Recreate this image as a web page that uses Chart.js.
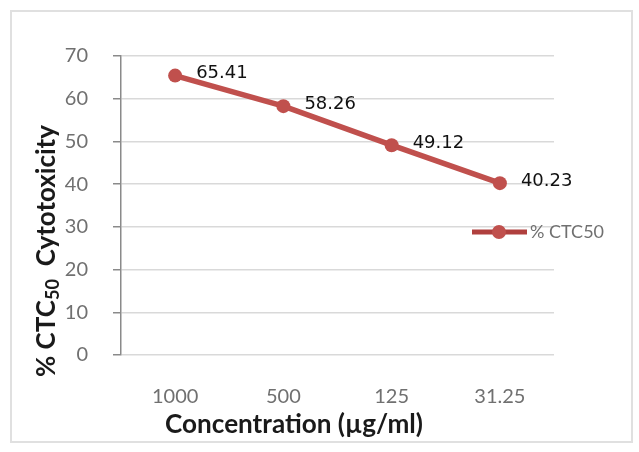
<!DOCTYPE html>
<html>
<head>
<meta charset="utf-8">
<script src="https://cdn.jsdelivr.net/npm/chart.js@4.4.1/dist/chart.umd.min.js"></script>
<style>
  html, body { margin: 0; padding: 0; background: #ffffff; }
  #wrap { position: relative; width: 639px; height: 452px; }
</style>
</head>
<body>
<div id="wrap"><canvas id="c" width="639" height="452"></canvas></div>
<script>
// ---- data ----
const categories = ["1000", "500", "125", "31.25"];
const seriesName = "% CTC50";
const ctcValues = [65.41, 58.26, 49.12, 40.23];
const yTicks = [0, 10, 20, 30, 40, 50, 60, 70];
const xTitle = "Concentration (\u00B5g/ml)";
const yTitleParts = ["% CTC", "50", "  Cytotoxicity"];

const lineColor = "#C0504D";

function fitFont(ctx, weight, family, text, targetWidth, startSize) {
  ctx.font = weight + " " + startSize + "px " + family;
  const w = ctx.measureText(text).width;
  return startSize * targetWidth / w;
}

const decorPlugin = {
  id: "decor",
  beforeDraw(chart) {
    const ctx = chart.ctx;
    ctx.save();
    ctx.fillStyle = "#ffffff";
    ctx.fillRect(0, 0, chart.width, chart.height);
    ctx.strokeStyle = "#e0e0e0";
    ctx.lineWidth = 2;
    ctx.strokeRect(11, 11, 621, 431);
    ctx.restore();
  },
  afterDatasetsDraw(chart) {
    const ctx = chart.ctx;
    const meta = chart.getDatasetMeta(0);
    ctx.save();
    // data labels
    ctx.font = "18px 'DejaVu Sans'";
    ctx.fillStyle = "#111111";
    ctx.textAlign = "left";
    ctx.textBaseline = "middle";
    meta.data.forEach((pt, i) => {
      ctx.fillText(ctcValues[i].toFixed(2), pt.x + 21, pt.y - 2);
    });

    // legend
    const lx = 472, ly = 232;
    ctx.strokeStyle = "#b0403e";
    ctx.lineWidth = 5;
    ctx.beginPath();
    ctx.moveTo(lx, ly);
    ctx.lineTo(lx + 55, ly);
    ctx.stroke();
    ctx.fillStyle = lineColor;
    ctx.beginPath();
    ctx.arc(lx + 27, ly, 7, 0, Math.PI * 2);
    ctx.fill();
    ctx.fillStyle = "#707070";
    ctx.font = "18px Lato";
    ctx.textBaseline = "middle";
    ctx.fillText(seriesName, lx + 58, ly);

    // x title
    const xs = fitFont(ctx, "bold", "Lato", xTitle, 258, 22);
    ctx.font = "bold " + xs + "px Lato";
    ctx.fillStyle = "#1a1a1a";
    ctx.textAlign = "center";
    ctx.textBaseline = "middle";
    ctx.fillText(xTitle, 294, 425);

    // y title (rotated, with subscript)
    const base = 21;
    ctx.font = "bold " + base + "px Lato";
    const w0 = ctx.measureText(yTitleParts[0]).width;
    const w2 = ctx.measureText(yTitleParts[2]).width;
    ctx.font = "bold " + (base * 0.7) + "px Lato";
    const w1 = ctx.measureText(yTitleParts[1]).width;
    let total = w0 + w1 + w2;
    const scale = 252 / total;
    const fs = base * scale;
    ctx.translate(47, 251);
    ctx.rotate(-Math.PI / 2);
    ctx.textAlign = "left";
    ctx.textBaseline = "middle";
    ctx.font = "bold " + fs + "px Lato";
    let x = -(total * scale) / 2;
    ctx.fillText(yTitleParts[0], x, 0);
    x += w0 * scale;
    ctx.font = "bold " + (fs * 0.7) + "px Lato";
    ctx.fillText(yTitleParts[1], x, fs * 0.22);
    x += w1 * scale;
    ctx.font = "bold " + fs + "px Lato";
    ctx.fillText(yTitleParts[2], x, 0);
    ctx.restore();
  }
};

new Chart(document.getElementById("c"), {
  type: "line",
  data: {
    labels: categories,
    datasets: [{
      label: seriesName,
      data: ctcValues,
      borderColor: lineColor,
      backgroundColor: lineColor,
      borderWidth: 5.5,
      pointRadius: 7,
      pointBackgroundColor: lineColor,
      pointBorderColor: lineColor,
      pointBorderWidth: 0,
      tension: 0,
      fill: false
    }]
  },
  options: {
    responsive: false,
    animation: false,
    layout: { padding: { left: 0, top: 56, right: 85, bottom: 0 } },
    plugins: {
      legend: { display: false },
      tooltip: { enabled: false }
    },
    scales: {
      x: {
        type: "category",
        offset: true,
        grid: { display: false, drawTicks: false },
        border: { display: false },
        ticks: {
          color: "#707070",
          font: { family: "Lato", size: 20 },
          padding: 30,
          maxRotation: 0
        },
        afterFit(scale) { scale.height = 97; }
      },
      y: {
        min: 0,
        max: 70,
        afterBuildTicks(scale) { scale.ticks = yTicks.map(v => ({ value: v })); },
        grid: {
          color: "#d9d9d9",
          lineWidth: 1.5,
          drawTicks: true,
          tickLength: 8,
          tickColor: "#8a8a8a"
        },
        border: { display: true, color: "#8a8a8a", width: 1.5 },
        ticks: {
          color: "#707070",
          font: { family: "Lato", size: 20 },
          padding: 25
        },
        afterFit(scale) { scale.width = 121; }
      }
    }
  },
  plugins: [decorPlugin]
});
</script>
</body>
</html>
